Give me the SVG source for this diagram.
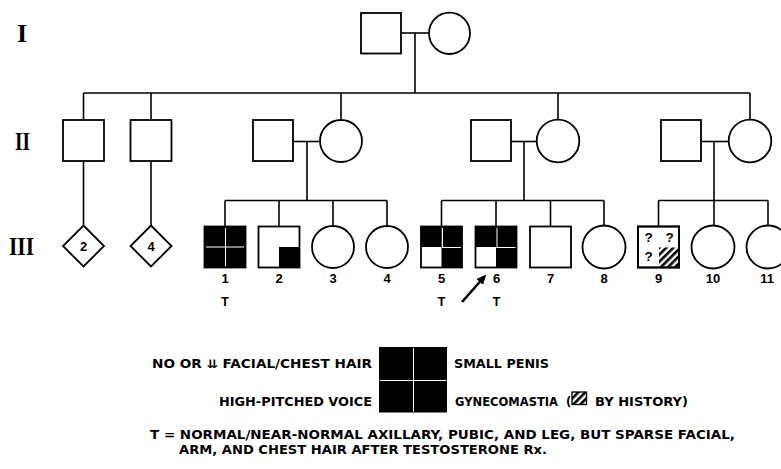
<svg xmlns="http://www.w3.org/2000/svg" width="781" height="469" viewBox="0 0 781 469">
  <style>
    .ln { stroke: #000; stroke-width: 1.6; fill: none; }
    .sym { stroke: #000; stroke-width: 1.8; fill: #fff; }
    .blk { fill: #000; }
    .wl { stroke: #fff; stroke-width: 1; }
    .gen { font-family: "Liberation Serif", serif; font-weight: bold; font-size: 26px; fill: #000; }
    .num { font-family: "Liberation Sans", Arial, sans-serif; font-weight: bold; font-size: 13px; fill: #000; text-anchor: middle; }
    .q { font-family: "Liberation Sans", Arial, sans-serif; font-weight: bold; font-size: 13.5px; fill: #000; text-anchor: middle; }
    .lbl { font-family: "DejaVu Sans", "Liberation Sans", sans-serif; font-weight: bold; font-size: 11.5px; fill: #000; }
  </style>
  <defs>
    <pattern id="hatch" patternUnits="userSpaceOnUse" width="5" height="5" patternTransform="rotate(45)">
      <rect width="2.6" height="5" fill="#000"/>
    </pattern>
    <marker id="arrowhead" markerWidth="10" markerHeight="9" refX="2" refY="4.5" orient="auto" markerUnits="userSpaceOnUse">
      <path d="M0,0 L10,4.5 L0,9 Z" fill="#000"/>
    </marker>
  </defs>

  <!-- generation labels -->
  <g id="generation-labels">
    <text class="gen" x="22" y="42" text-anchor="middle">I</text>
    <text class="gen" x="22.5" y="150" text-anchor="middle" textLength="15" lengthAdjust="spacingAndGlyphs">II</text>
    <text class="gen" x="21.5" y="255" text-anchor="middle" textLength="25" lengthAdjust="spacingAndGlyphs">III</text>
  </g>

  <!-- connectors -->
  <g id="connectors" class="ln">
    <!-- generation I couple and sibship -->
    <line x1="401" y1="33" x2="429" y2="33"/>
    <line x1="415" y1="33" x2="415" y2="93"/>
    <line x1="83.5" y1="93" x2="750" y2="93"/>
    <line x1="83.5" y1="93" x2="83.5" y2="120"/>
    <line x1="151" y1="93" x2="151" y2="120"/>
    <line x1="341" y1="93" x2="341" y2="120"/>
    <line x1="558" y1="93" x2="558" y2="120"/>
    <line x1="750" y1="93" x2="750" y2="120"/>
    <!-- generation II to diamonds -->
    <line x1="83.5" y1="161" x2="83.5" y2="225.5"/>
    <line x1="151" y1="161" x2="151" y2="225.5"/>
    <!-- couple II-3 / II-4 -->
    <line x1="293" y1="141.5" x2="320" y2="141.5"/>
    <line x1="307" y1="141.5" x2="307" y2="200.5"/>
    <line x1="225" y1="200.5" x2="387" y2="200.5"/>
    <line x1="225" y1="200.5" x2="225" y2="226.5"/>
    <line x1="279" y1="200.5" x2="279" y2="226.5"/>
    <line x1="333" y1="200.5" x2="333" y2="226"/>
    <line x1="387" y1="200.5" x2="387" y2="226"/>
    <!-- couple II-5 / II-6 -->
    <line x1="511" y1="141.5" x2="537" y2="141.5"/>
    <line x1="524" y1="141.5" x2="524" y2="200.5"/>
    <line x1="441.5" y1="200.5" x2="604" y2="200.5"/>
    <line x1="441.5" y1="200.5" x2="441.5" y2="226.5"/>
    <line x1="496" y1="200.5" x2="496" y2="226.5"/>
    <line x1="550.5" y1="200.5" x2="550.5" y2="226.5"/>
    <line x1="604" y1="200.5" x2="604" y2="226"/>
    <!-- couple II-7 / II-8 -->
    <line x1="701" y1="141.5" x2="729" y2="141.5"/>
    <line x1="714" y1="141.5" x2="714" y2="200.5"/>
    <line x1="658.5" y1="200.5" x2="768" y2="200.5"/>
    <line x1="658.5" y1="200.5" x2="658.5" y2="226.5"/>
    <line x1="714" y1="200.5" x2="714" y2="226"/>
    <line x1="768" y1="200.5" x2="768" y2="226"/>
  </g>

  <!-- generation I -->
  <g id="I-1"><rect class="sym" x="361" y="13" width="40" height="40.5"/></g>
  <g id="I-2"><ellipse class="sym" cx="449.5" cy="33.3" rx="20.5" ry="20.7"/></g>

  <!-- generation II -->
  <g id="II-1"><rect class="sym" x="63" y="120" width="41" height="41"/></g>
  <g id="II-2"><rect class="sym" x="130.5" y="120" width="41" height="41"/></g>
  <g id="II-3"><rect class="sym" x="253" y="120" width="40" height="41"/></g>
  <g id="II-4"><circle class="sym" cx="341" cy="141" r="21"/></g>
  <g id="II-5"><rect class="sym" x="471" y="120" width="40" height="41"/></g>
  <g id="II-6"><circle class="sym" cx="558" cy="141" r="21.3"/></g>
  <g id="II-7"><rect class="sym" x="661" y="120" width="40" height="41"/></g>
  <g id="II-8"><circle class="sym" cx="750" cy="141" r="21.3"/></g>

  <!-- generation III -->
  <g id="III-sibs-2">
    <path class="sym" d="M83.5,225.5 L104,246 L83.5,266.5 L63,246 Z"/>
    <text class="num" x="83.5" y="251">2</text>
  </g>
  <g id="III-sibs-4">
    <path class="sym" d="M151,225.5 L171.5,246 L151,266.5 L130.5,246 Z"/>
    <text class="num" x="151" y="251">4</text>
  </g>

  <g id="III-1">
    <rect class="sym" x="204.5" y="226.5" width="41" height="41" style="fill:#000"/>
    <line class="wl" x1="225.5" y1="228" x2="225.5" y2="266"/>
    <line class="wl" x1="206" y1="247" x2="244" y2="247"/>
    <text class="num" x="225" y="282.5">1</text>
    <text class="num" x="225" y="305.5">T</text>
  </g>
  <g id="III-2">
    <rect class="sym" x="258.5" y="226.5" width="41" height="41"/>
    <rect class="blk" x="279" y="247" width="20.5" height="20.5"/>
    <text class="num" x="279" y="282.5">2</text>
  </g>
  <g id="III-3">
    <circle class="sym" cx="333" cy="247" r="21"/>
    <text class="num" x="333" y="282.5">3</text>
  </g>
  <g id="III-4">
    <circle class="sym" cx="387" cy="247" r="21"/>
    <text class="num" x="387" y="282.5">4</text>
  </g>
  <g id="III-5">
    <rect class="sym" x="421" y="226.5" width="41" height="41"/>
    <rect class="blk" x="421" y="226.5" width="20.5" height="20.5"/>
    <rect class="blk" x="441.5" y="226.5" width="20.5" height="20.5"/>
    <rect class="blk" x="441.5" y="247" width="20.5" height="20.5"/>
    <line class="wl" x1="442.5" y1="228" x2="442.5" y2="247.5"/>
    <line class="wl" x1="442" y1="247.5" x2="461" y2="247.5"/>
    <text class="num" x="441.5" y="282.5">5</text>
    <text class="num" x="441.5" y="305.5">T</text>
  </g>
  <g id="III-6">
    <rect class="sym" x="475.5" y="226.5" width="41" height="41"/>
    <rect class="blk" x="475.5" y="226.5" width="20.5" height="20.5"/>
    <rect class="blk" x="496" y="226.5" width="20.5" height="20.5"/>
    <rect class="blk" x="496" y="247" width="20.5" height="20.5"/>
    <line class="wl" x1="497" y1="228" x2="497" y2="247.5"/>
    <line class="wl" x1="496.5" y1="247.5" x2="515.5" y2="247.5"/>
    <text class="num" x="496.5" y="282.5">6</text>
    <text class="num" x="496.5" y="305.5">T</text>
    <line x1="462" y1="302" x2="481" y2="280.5" stroke="#000" stroke-width="2.6" marker-end="url(#arrowhead)"/>
  </g>
  <g id="III-7">
    <rect class="sym" x="530" y="226.5" width="41" height="41"/>
    <text class="num" x="550.5" y="282.5">7</text>
  </g>
  <g id="III-8">
    <circle class="sym" cx="604" cy="247" r="21.5"/>
    <text class="num" x="604" y="282.5">8</text>
  </g>
  <g id="III-9">
    <rect class="sym" x="638" y="226.5" width="41" height="41"/>
    <rect x="659" y="247.5" width="19.5" height="19.5" fill="url(#hatch)"/>
    <rect x="638" y="226.5" width="41" height="41" fill="none" stroke="#000" stroke-width="1.8"/>
    <text class="q" x="648.5" y="242">?</text>
    <text class="q" x="669.5" y="242">?</text>
    <text class="q" x="648.5" y="260.5">?</text>
    <text class="num" x="658.5" y="282.5">9</text>
  </g>
  <g id="III-10">
    <circle class="sym" cx="713" cy="247" r="21.5"/>
    <text class="num" x="713" y="282.5">10</text>
  </g>
  <g id="III-11">
    <circle class="sym" cx="768" cy="247" r="21.5"/>
    <text class="num" x="767" y="282.5">11</text>
  </g>

  <!-- legend -->
  <g id="legend">
    <rect class="blk" x="379" y="347" width="68" height="65.5"/>
    <line class="wl" x1="413.5" y1="348" x2="413.5" y2="411.5"/>
    <line class="wl" x1="380" y1="380.5" x2="446" y2="380.5"/>
    <text class="lbl" x="372" y="367.5" text-anchor="end" textLength="220" lengthAdjust="spacingAndGlyphs">NO OR ⇊ FACIAL/CHEST HAIR</text>
    <text class="lbl" x="372" y="405.5" text-anchor="end" textLength="153" lengthAdjust="spacingAndGlyphs">HIGH-PITCHED VOICE</text>
    <text class="lbl" x="454" y="367.5" textLength="95" lengthAdjust="spacingAndGlyphs">SMALL PENIS</text>
    <text class="lbl" x="455" y="405.5" textLength="103" lengthAdjust="spacingAndGlyphs">GYNECOMASTIA</text>
    <text class="lbl" x="566" y="405.5">(</text>
    <rect x="572" y="392" width="14.5" height="12.5" fill="url(#hatch)" stroke="#000" stroke-width="1.3"/>
    <text class="lbl" x="595" y="405.5" textLength="93" lengthAdjust="spacingAndGlyphs">BY HISTORY)</text>
  </g>

  <!-- footnote -->
  <g id="footnote">
    <text class="lbl" x="150" y="438.5" textLength="585" lengthAdjust="spacingAndGlyphs">T = NORMAL/NEAR-NORMAL AXILLARY, PUBIC, AND LEG, BUT SPARSE FACIAL,</text>
    <text class="lbl" x="179" y="454" textLength="368" lengthAdjust="spacingAndGlyphs">ARM, AND CHEST HAIR AFTER TESTOSTERONE Rx.</text>
  </g>
</svg>
